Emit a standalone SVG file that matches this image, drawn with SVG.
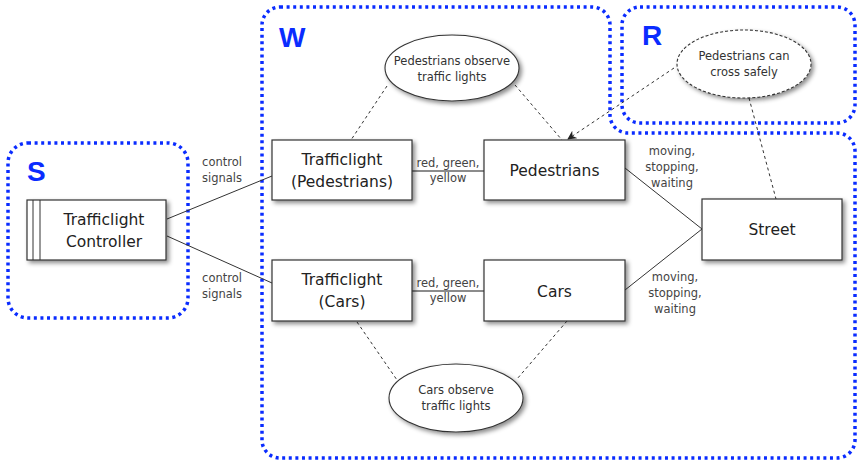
<svg xmlns="http://www.w3.org/2000/svg" width="858" height="463" viewBox="0 0 858 463">
  <defs>
    <filter id="shadow" x="-20%" y="-20%" width="150%" height="160%">
      <feDropShadow dx="2.5" dy="2.5" stdDeviation="2" flood-color="#000" flood-opacity="0.45"/>
    </filter>
    <marker id="arrow" viewBox="0 0 10 10" refX="9" refY="5" markerWidth="9" markerHeight="9" orient="auto-start-reverse" markerUnits="userSpaceOnUse">
      <path d="M0 0 L10 5 L0 10 L3 5 Z" fill="#222"/>
    </marker>
  </defs>
  <style>
    .region { fill: none; stroke: #0a2cff; stroke-width: 3.5; stroke-dasharray: 3 3.6; }
    .rtitle { font-family: "Liberation Sans", Arial, sans-serif; font-weight: bold; font-size: 28px; fill: #0a2cff; }
    .box { fill: #fff; stroke: #333; stroke-width: 1.2; filter: url(#shadow); }
    .ell { fill: #fff; stroke: #333; stroke-width: 1.1; filter: url(#shadow); }
    .ell.dashed { stroke-dasharray: 3 2; }
    .name { font-family: "DejaVu Sans", sans-serif; font-size: 15.5px; fill: #222; text-anchor: middle; }
    .small { font-family: "DejaVu Sans", sans-serif; font-size: 11.5px; fill: #333; text-anchor: middle; }
    .lbl { font-family: "DejaVu Sans", sans-serif; font-size: 11.5px; fill: #444; text-anchor: middle; }
    .link { fill: none; stroke: #333; stroke-width: 1; }
    .flow { fill: none; stroke: #666; stroke-width: 1.5; }
    .trace { fill: none; stroke: #333; stroke-width: 1; stroke-dasharray: 3 3; }
  </style>

  <!-- domain regions -->
  <g id="region-S">
    <rect class="region" x="8" y="143" width="180" height="175" rx="20"/>
    <text class="rtitle" x="27" y="181">S</text>
  </g>
  <g id="region-W">
    <path class="region" d="M280 7 H592 A18 18 0 0 1 610 25 V115 A18 18 0 0 0 628 133 H837 A18 18 0 0 1 855 151 V440 A18 18 0 0 1 837 458 H280 A18 18 0 0 1 262 440 V25 A18 18 0 0 1 280 7 Z"/>
    <text class="rtitle" x="279" y="47">W</text>
  </g>
  <g id="region-R">
    <rect class="region" x="622" y="7" width="233" height="116" rx="18"/>
    <text class="rtitle" x="642" y="45">R</text>
  </g>

  <!-- connectors -->
  <g id="connectors">
    <line class="link" x1="167" y1="219" x2="272" y2="176"/>
    <line class="link" x1="167" y1="236" x2="272" y2="283"/>
    <line class="flow" x1="412" y1="171" x2="484" y2="171"/>
    <line class="flow" x1="412" y1="291" x2="484" y2="291"/>
    <line class="link" x1="625" y1="168" x2="702" y2="229"/>
    <line class="link" x1="625" y1="290" x2="702" y2="229"/>
    <line class="trace" x1="387" y1="86" x2="351" y2="140"/>
    <line class="trace" x1="515" y1="85" x2="562" y2="140"/>
    <line class="trace" x1="674" y1="68" x2="568" y2="139" marker-end="url(#arrow)"/>
    <line class="trace" x1="749" y1="98" x2="776" y2="199"/>
    <line class="trace" x1="357" y1="322" x2="397" y2="380"/>
    <line class="trace" x1="567" y1="321" x2="517" y2="379"/>

    <text class="lbl" x="222" y="166">control</text>
    <text class="lbl" x="222" y="182">signals</text>
    <text class="lbl" x="222" y="282">control</text>
    <text class="lbl" x="222" y="298">signals</text>
    <text class="lbl" x="448" y="167">red, green,</text>
    <text class="lbl" x="448" y="182">yellow</text>
    <text class="lbl" x="448" y="287">red, green,</text>
    <text class="lbl" x="448" y="302">yellow</text>
    <text class="lbl" x="672" y="155">moving,</text>
    <text class="lbl" x="672" y="171">stopping,</text>
    <text class="lbl" x="672" y="187">waiting</text>
    <text class="lbl" x="675" y="281">moving,</text>
    <text class="lbl" x="675" y="297">stopping,</text>
    <text class="lbl" x="675" y="313">waiting</text>
  </g>

  <!-- machine -->
  <g id="controller">
    <rect class="box" x="27" y="200" width="139" height="60"/>
    <line class="link" x1="33" y1="200" x2="33" y2="260"/>
    <line class="link" x1="40" y1="200" x2="40" y2="260"/>
    <text class="name" x="104" y="225">Trafficlight</text>
    <text class="name" x="104" y="247">Controller</text>
  </g>

  <!-- world domains -->
  <g id="trafficlight-pedestrians">
    <rect class="box" x="272" y="140" width="140" height="60"/>
    <text class="name" x="342" y="165">Trafficlight</text>
    <text class="name" x="342" y="187">(Pedestrians)</text>
  </g>
  <g id="pedestrians">
    <rect class="box" x="484" y="140" width="141" height="60"/>
    <text class="name" x="554.5" y="176">Pedestrians</text>
  </g>
  <g id="trafficlight-cars">
    <rect class="box" x="272" y="260" width="140" height="61"/>
    <text class="name" x="342" y="285">Trafficlight</text>
    <text class="name" x="342" y="307">(Cars)</text>
  </g>
  <g id="cars">
    <rect class="box" x="484" y="260" width="141" height="61"/>
    <text class="name" x="554.5" y="297">Cars</text>
  </g>
  <g id="street">
    <rect class="box" x="702" y="199" width="140" height="61"/>
    <text class="name" x="772" y="235">Street</text>
  </g>

  <!-- phenomena and requirement -->
  <g id="pedestrians-observe">
    <ellipse class="ell" cx="452" cy="68" rx="67" ry="33"/>
    <text class="small" x="452" y="65">Pedestrians observe</text>
    <text class="small" x="452" y="81">traffic lights</text>
  </g>
  <g id="cars-observe">
    <ellipse class="ell" cx="456" cy="398" rx="67" ry="34"/>
    <text class="small" x="456" y="394">Cars observe</text>
    <text class="small" x="456" y="410">traffic lights</text>
  </g>
  <g id="cross-safely">
    <ellipse class="ell dashed" cx="744" cy="64" rx="67" ry="34"/>
    <text class="small" x="744" y="60">Pedestrians can</text>
    <text class="small" x="744" y="76">cross safely</text>
  </g>
</svg>
